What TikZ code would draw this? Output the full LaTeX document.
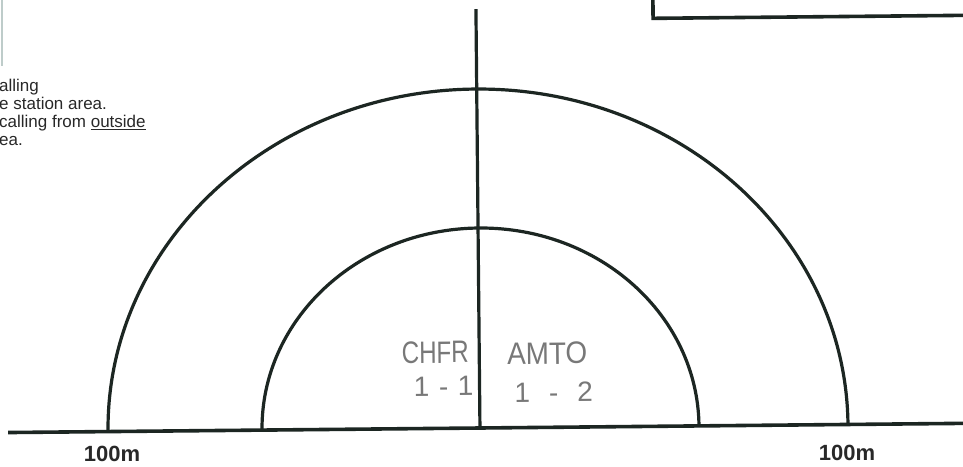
\documentclass[tikz,border=0pt]{standalone}
\usepackage{fontspec}
\setmainfont{Liberation Sans}
\definecolor{inkc}{RGB}{28,38,34}
\definecolor{txtc}{RGB}{40,40,40}
\definecolor{penc}{RGB}{120,120,120}
\definecolor{faint}{RGB}{190,204,202}
\begin{document}
\begin{tikzpicture}[x=1pt,y=1pt,
  ink/.style={draw=inkc, line width=3.2pt},
  printed/.style={font=\fontsize{17}{19}\selectfont, text=txtc, inner sep=0pt, anchor=base west},
  dist/.style={font=\fontsize{22}{25}\selectfont\bfseries, text=txtc, inner sep=0pt, anchor=base},
  pen/.style={text=penc, inner sep=0pt, transform shape, font=\fontsize{31}{34}\selectfont},
  pendigits/.style={text=penc, inner sep=0pt, transform shape, font=\fontsize{28}{31}\selectfont}]
\useasboundingbox (0,0) rectangle (963,466);
\begin{scope}
\clip (0,0) rectangle (963,466);
\fill[white] (0,0) rectangle (963,466);
% faint edge of a box at top left
\draw[faint, line width=1.5pt] (2,466) -- (2,400);
% cut-off printed note
\node[printed] (t1) at (-1,374) {alling};
\node[printed] (t2) at (-1,356) {e station area.};
\node[printed] (t3) at (-1,338) {calling from \underline{outside}};
\node[printed] (t4) at (-1,320) {ea.};
\begin{scope}[rotate around={0.55:(480,38)}]
  \coordinate (bl) at (8,38);
  \coordinate (br) at (1000,38);
  \coordinate (vt) at (480,457);
  \coordinate (vb) at (480,38);
  \draw[ink, line width=3.6pt] (bl) -- (br);
  \draw[ink] (vt) -- (vb);
  \draw[ink] (108,38) arc[start angle=180, end angle=0, x radius=370, y radius=339];
  \draw[ink] (262,38) arc[start angle=180, end angle=0, x radius=218.5, y radius=200];
  \draw[ink, line width=3.6pt] (1000,446) -- (657,446) -- (657,480);
  \node[pen, xscale=0.78] (chfr) at (436,114) {CHFR};
  \node[pendigits] (n11) at (444,80) {1\hspace{9.5pt}-\hspace{9.5pt}1};
  \node[pen, xscale=0.9] (amto) at (548,112) {AMTO};
  \node[pendigits] (n12) at (554,73) {1\hspace{19pt}-\hspace{19pt}2};
\end{scope}
\node[dist] (d1) at (112,5) {100m};
\node[dist] (d2) at (847,6) {100m};
\end{scope}
\end{tikzpicture}
\end{document}
